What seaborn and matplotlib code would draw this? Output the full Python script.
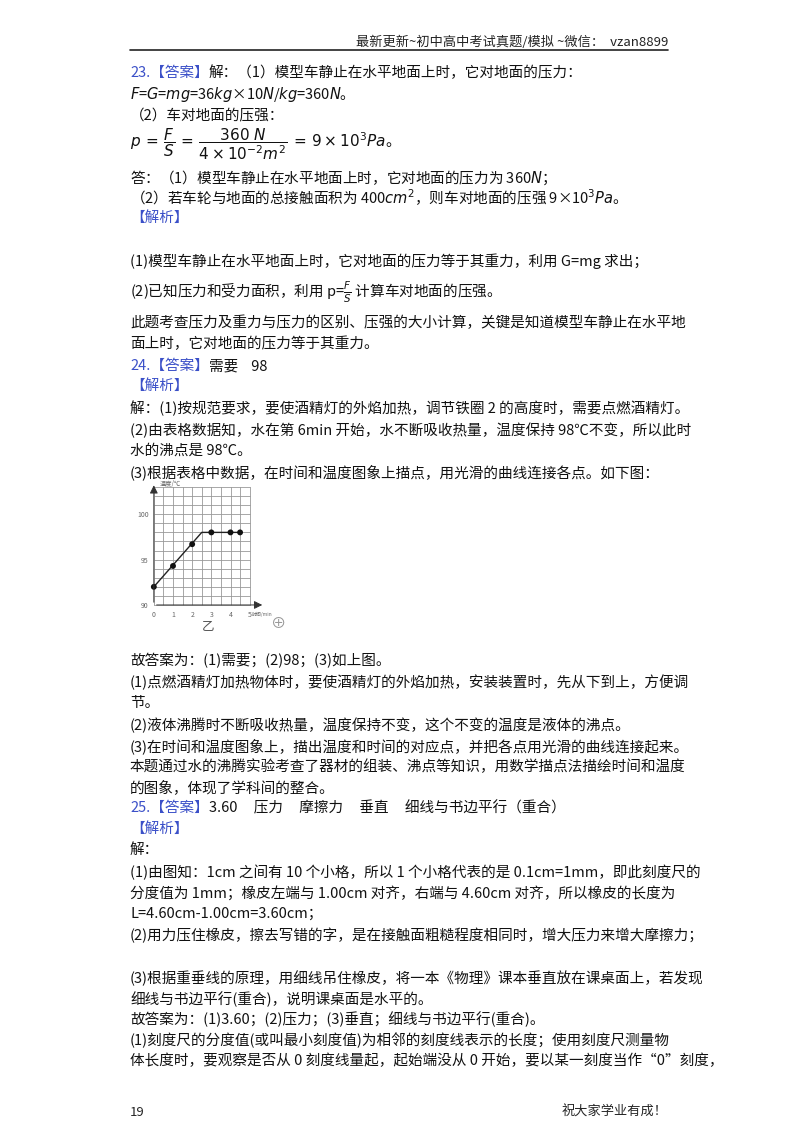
import matplotlib
matplotlib.use("Agg")
import matplotlib.pyplot as plt
import seaborn as sns

# chart data
point_time = [0, 1, 2, 3, 4, 4.5]
point_temp = [92, 94.3, 96.7, 98, 98, 98]
line_time = [0, 2.5, 4.5]
line_temp = [92, 98, 98]
x_ticks = [0, 1, 2, 3, 4, 5]
y_ticks = [90, 95, 100]

BLUE = "#3b50c8"
FONT = ["Noto Sans CJK SC", "DejaVu Sans"]

sns.set_theme(style="white")
plt.rcParams["font.family"] = FONT

W, H = 800, 1132
fig = plt.figure(figsize=(W / 100, H / 100), dpi=100)
fig.canvas.draw()
renderer = fig.canvas.get_renderer()


def put(x, y, segs, size=10.5, ha="left"):
    """segs: list of (text, color); y is pixel from top"""
    if isinstance(segs, str):
        segs = [(segs, "#111111")]
    cx = x
    for s, c in segs:
        t = fig.text(cx / W, 1 - y / H, s, fontsize=size, color=c, ha=ha, va="center", family=FONT)
        cx += t.get_window_extent(renderer).width
    return cx


# header / footer
fig.text(668 / W, 1 - 42 / H, "最新更新~初中高中考试真题/模拟 ~微信：  vzan8899", fontsize=9.5,
         ha="right", va="center", color="#222222")
fig.add_artist(plt.Line2D([130 / W, 668 / W], [1 - 50 / H] * 2, color="#222222", lw=1.2))
fig.text(130 / W, 1 - 1112 / H, "19", fontsize=9.5, va="center")
fig.text(668 / W, 1 - 1112 / H, "祝大家学业有成！", fontsize=9.5, ha="right", va="center")

L = 130
put(L, 73, [("23.【答案】", BLUE), ("解：（1）模型车静止在水平地面上时，它对地面的压力：", "#111111")])
put(L, 94, [(r"$F$=$G$=$mg$=36$kg$×10$N$/$kg$=360$N$。", "#111111")])
put(L, 116, "（2）车对地面的压强：")
put(L, 144, [(r"$p\,=\,\dfrac{F}{S}\,=\,\dfrac{360\ N}{4\times10^{-2}m^{2}}\,=\,9\times10^{3}Pa$。", "#111111")], size=11)
put(L, 178, "答：（1）模型车静止在水平地面上时，它对地面的压力为 360$N$；")
put(L, 198, "（2）若车轮与地面的总接触面积为 400$cm^2$，则车对地面的压强 9×10$^3$$Pa$。")
put(L, 218, [("【解析】", BLUE)])
put(L, 261, "(1)模型车静止在水平地面上时，它对地面的压力等于其重力，利用 G=mg 求出；")
put(L, 292, r"(2)已知压力和受力面积，利用 p=$\frac{F}{S}$ 计算车对地面的压强。")
put(L, 323, "此题考查压力及重力与压力的区别、压强的大小计算，关键是知道模型车静止在水平地")
put(L, 344, "面上时，它对地面的压力等于其重力。")
put(L, 366, [("24.【答案】", BLUE), ("需要    98", "#111111")])
put(L, 386, [("【解析】", BLUE)])
put(L, 408, "解：(1)按规范要求，要使酒精灯的外焰加热，调节铁圈 2 的高度时，需要点燃酒精灯。")
put(L, 430, "(2)由表格数据知，水在第 6min 开始，水不断吸收热量，温度保持 98℃不变，所以此时")
put(L, 451, "水的沸点是 98℃。")
put(L, 472, "(3)根据表格中数据，在时间和温度图象上描点，用光滑的曲线连接各点。如下图：")

lines2 = [
    (661, "故答案为：(1)需要；(2)98；(3)如上图。"),
    (682, "(1)点燃酒精灯加热物体时，要使酒精灯的外焰加热，安装装置时，先从下到上，方便调"),
    (703, "节。"),
    (725, "(2)液体沸腾时不断吸收热量，温度保持不变，这个不变的温度是液体的沸点。"),
    (746, "(3)在时间和温度图象上，描出温度和时间的对应点，并把各点用光滑的曲线连接起来。"),
    (767, "本题通过水的沸腾实验考查了器材的组装、沸点等知识，用数学描点法描绘时间和温度"),
    (788, "的图象，体现了学科间的整合。"),
]
for y, s in lines2:
    put(L, y, s)
put(L, 808, [("25.【答案】", BLUE), ("3.60     压力     摩擦力     垂直     细线与书边平行（重合）", "#111111")])
put(L, 829, [("【解析】", BLUE)])
lines3 = [
    (850, "解："),
    (872, "(1)由图知：1cm 之间有 10 个小格，所以 1 个小格代表的是 0.1cm=1mm，即此刻度尺的"),
    (893, "分度值为 1mm；橡皮左端与 1.00cm 对齐，右端与 4.60cm 对齐，所以橡皮的长度为"),
    (914, "L=4.60cm-1.00cm=3.60cm；"),
    (935, "(2)用力压住橡皮，擦去写错的字，是在接触面粗糙程度相同时，增大压力来增大摩擦力；"),
    (978, "(3)根据重垂线的原理，用细线吊住橡皮，将一本《物理》课本垂直放在课桌面上，若发现"),
    (999, "细线与书边平行(重合)，说明课桌面是水平的。"),
    (1019, "故答案为：(1)3.60；(2)压力；(3)垂直；细线与书边平行(重合)。"),
    (1040, "(1)刻度尺的分度值(或叫最小刻度值)为相邻的刻度线表示的长度；使用刻度尺测量物"),
    (1061, "体长度时，要观察是否从 0 刻度线量起，起始端没从 0 开始，要以某一刻度当作“0”刻度，"),
]
for y, s in lines3:
    put(L, y, s)

# small chart
ax = fig.add_axes([150 / W, 1 - 609.5 / H, 115 / W, 127 / H])
ax.set_xlim(-0.2, 5.8)
ax.set_ylim(89.5, 103.5)
for gx in [i * 0.5 for i in range(11)]:
    ax.plot([gx, gx], [90, 103], color="#999999", lw=0.6, zorder=0)
for gy in range(90, 104):
    ax.plot([0, 5], [gy, gy], color="#999999", lw=0.6, zorder=0)
sns.lineplot(x=line_time, y=line_temp, ax=ax, color="#222222", lw=1.0, sort=False)
sns.scatterplot(x=point_time, y=point_temp, ax=ax, color="#111111", s=18, edgecolor="none", zorder=3)
ax.annotate("", xy=(5.8, 90), xytext=(0, 90), arrowprops=dict(arrowstyle="-|>", lw=0.7, color="#333333"))
ax.annotate("", xy=(0, 103.5), xytext=(0, 90), arrowprops=dict(arrowstyle="-|>", lw=0.7, color="#333333"))
for s in ax.spines.values():
    s.set_visible(False)
ax.set_xticks(x_ticks)
ax.set_yticks(y_ticks)
ax.tick_params(labelsize=5, colors="#666666", length=0, pad=1)
ax.text(0.3, 103.3, "温度/℃", fontsize=4.5, color="#666666", va="center")
ax.text(5.1, 89.0, "时间/min", fontsize=3.5, color="#666666", va="center")
ax.set_facecolor("white")
fig.text(208 / W, 1 - 627 / H, "乙", fontsize=9, color="#555555", ha="center", va="center")
fig.text(278 / W, 1 - 624 / H, "⊕", fontsize=11, color="#999999", ha="center", va="center")

fig.savefig("out.png", dpi=100)
